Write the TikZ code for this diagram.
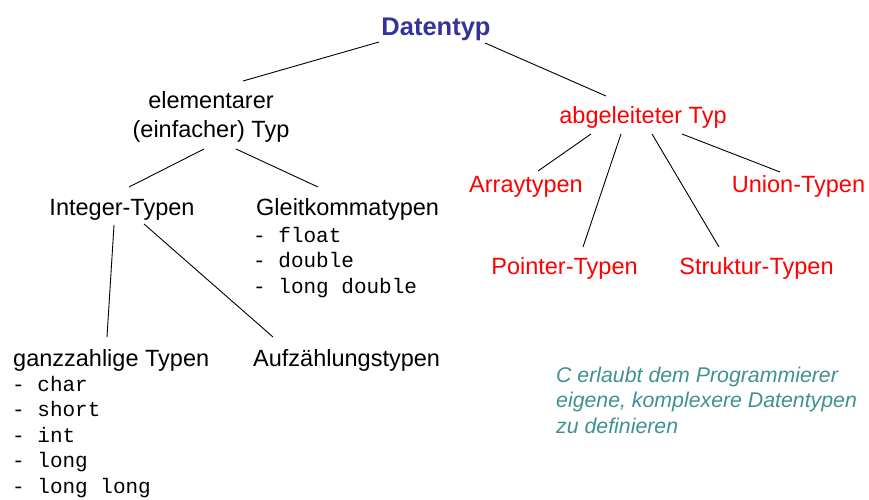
\documentclass[tikz,border=0pt]{standalone}
\usepackage{fontspec}
\setmainfont{Liberation Sans}
\setmonofont{Liberation Mono}
\usetikzlibrary{calc}
\definecolor{dtblue}{RGB}{51,51,153}
\definecolor{noteteal}{RGB}{64,145,145}
\definecolor{dtred}{RGB}{255,0,0}
\tikzset{
  lbl/.style={inner sep=0pt, font=\fontsize{23.5}{29}\selectfont},
  redlbl/.style={lbl, text=dtred},
  codelist/.style={inner sep=0pt, align=left, font=\ttfamily\fontsize{21}{25.5}\selectfont},
  edge/.style={draw=black, line width=0.9pt},
}
\begin{document}
\begin{tikzpicture}[x=1pt,y=-1pt]
\useasboundingbox (0,0) rectangle (869,499);
% nodes (for multi-line nodes, base = baseline of last line)
\node[inner sep=0pt, anchor=base, text=dtblue, font=\bfseries\fontsize{25.5}{30}\selectfont] (dt) at (436,35) {Datentyp};
\node[lbl, anchor=base, align=center] (elem) at (211,137) {elementarer\\(einfacher) Typ};
\node[redlbl, anchor=base] (abg) at (643,123) {abgeleiteter Typ};
\node[lbl, anchor=base] (int) at (122,215) {Integer-Typen};
\node[lbl, anchor=base west] (gleit) at (256,215) {Gleitkommatypen};
\node[codelist, anchor=base west] (gleitlist) at (253,293) {- float\\- double\\- long double};
\node[redlbl, anchor=base] (array) at (526,192) {Arraytypen};
\node[redlbl, anchor=base] (union) at (798.5,192) {Union-Typen};
\node[redlbl, anchor=base] (pointer) at (564.5,274) {Pointer-Typen};
\node[redlbl, anchor=base] (struktur) at (756.5,274) {Struktur-Typen};
\node[lbl, anchor=base west] (ganz) at (13,366) {ganzzahlige Typen};
\node[codelist, anchor=base west] (ganzlist) at (12,493) {- char\\- short\\- int\\- long\\- long long};
\node[lbl, anchor=base west] (aufz) at (253,366) {Aufzählungstypen};
\node[inner sep=0pt, anchor=base west, align=left, text=noteteal, font=\itshape\fontsize{21.3}{25.5}\selectfont] (note) at (556,433) {C erlaubt dem Programmierer\\eigene, komplexere Datentypen\\zu definieren};
% connectors
\draw[edge] ($(dt.base)+(-57,7)$) -- ($(elem.base)+(32,-56)$);
\draw[edge] ($(dt.base)+(49,8)$) -- ($(abg.base)+(-37,-27)$);
\draw[edge] ($(elem.base)+(-7,12)$) -- ($(int.base)+(7,-28)$);
\draw[edge] ($(elem.base)+(25,12)$) -- ($(gleit.base west)+(62,-28)$);
\draw[edge] ($(int.base)+(-8,10)$) -- ($(ganz.base west)+(94,-29)$);
\draw[edge] ($(int.base)+(22,9)$) -- ($(aufz.base west)+(20,-29)$);
\draw[edge] ($(abg.base)+(-52,11)$) -- ($(array.base)+(12,-21)$);
\draw[edge] ($(abg.base)+(-22,11)$) -- ($(pointer.base)+(18.5,-27)$);
\draw[edge] ($(abg.base)+(9,11)$) -- ($(struktur.base)+(-37.5,-27)$);
\draw[edge] ($(abg.base)+(39,11)$) -- ($(union.base)+(-18.5,-20)$);
\end{tikzpicture}
\end{document}
